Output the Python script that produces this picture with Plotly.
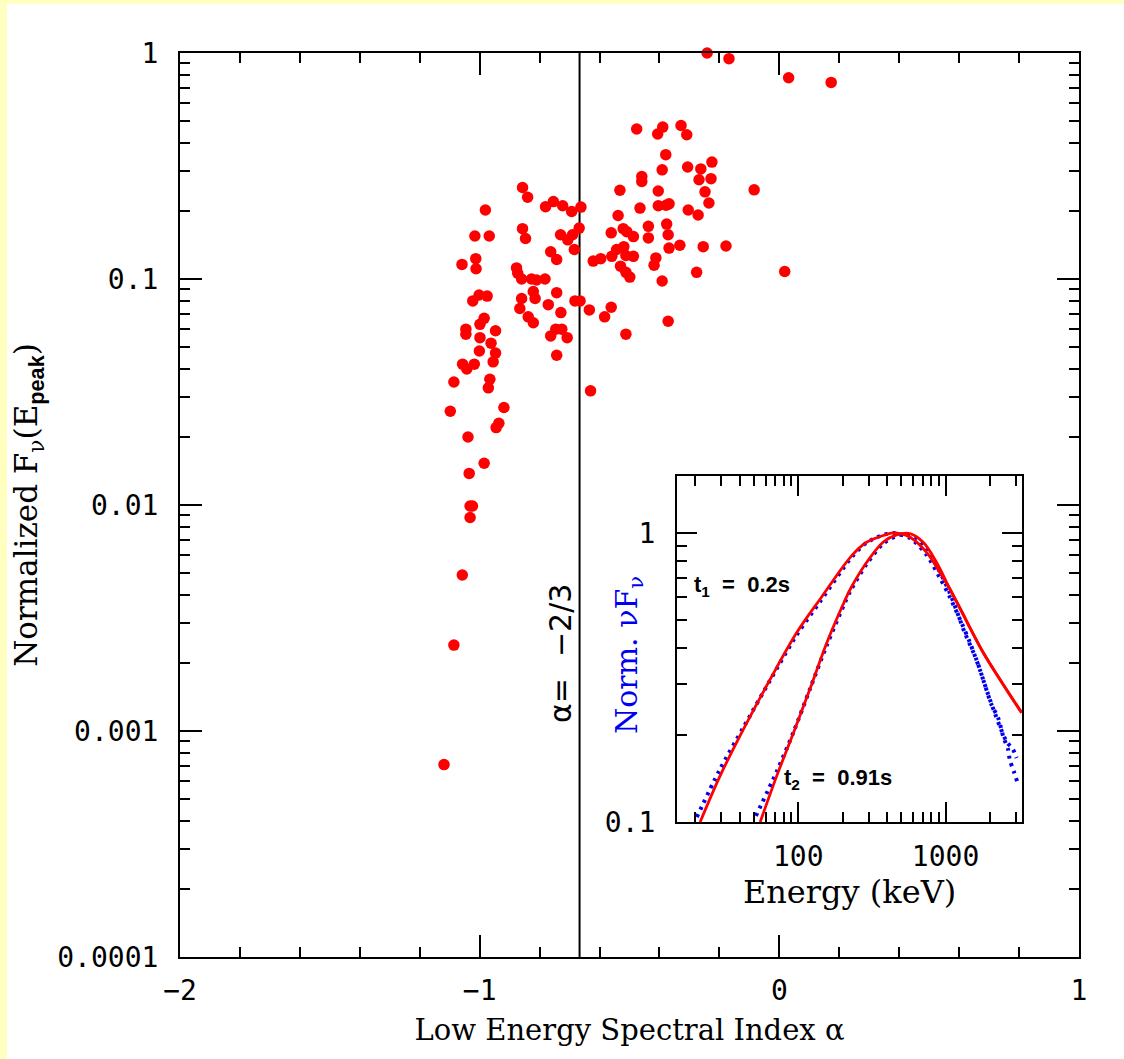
import plotly.graph_objects as go

# ---------------- main scatter data ----------------
alpha = [-0.241, -0.168, 0.031, 0.173, -0.476, -0.406, -0.389, -0.328, -0.309, -0.379,
         -0.391, -0.306, -0.262, -0.225, -0.268, -0.228, -0.459, -0.459, -0.532, -0.404,
         -0.248, -0.084, -0.857, -0.840, -0.981, -0.780, -0.754, -0.723, -0.693, -0.662,
         -0.465, -0.404, -0.378, -0.368, -0.304, -0.235, -0.271, -0.538, -1.016, -0.968,
         -0.857, -0.847, -0.730, -0.706, -0.690, -0.668, -0.561, -0.521, -0.509, -0.487,
         -0.437, -0.437, -0.376, -0.371, -0.368, -0.332, -0.254, -0.178, -0.684, -0.763,
         -0.743, -1.059, -1.013, -1.012, -0.621, -0.596, -0.559, -0.543, -0.519, -0.512,
         -0.487, -0.412, -0.418, -0.530, -0.512, -0.499, -0.391, -0.276, 0.018, -0.877,
         -0.873, -0.860, -0.827, -0.810, -0.782, -0.821, -0.815, -0.743, -0.860, -0.866,
         -0.771, -0.729, -0.838, -0.821, -0.682, -0.665, -0.634, -0.561, -0.583, -0.371,
         -0.512, -1.023, -1.002, -0.975, -0.985, -0.999, -1.046, -1.046, -0.999, -0.947,
         -0.962, -1.001, -0.947, -0.955, -1.057, -1.043, -1.018, -1.086, -0.966, -0.971,
         -0.763, -0.746, -0.726, -0.708, -0.743, -0.919, -1.098, -0.936, -0.945, -1.039,
         -0.630, -0.985, -1.035, -1.032, -1.024, -1.032, -1.058, -1.086, -1.119]

fnu_peak = [1.0, 0.944, 0.777, 0.741, 0.461, 0.438, 0.470, 0.478, 0.435, 0.355,
            0.304, 0.313, 0.307, 0.329, 0.275, 0.278, 0.284, 0.270, 0.247, 0.245,
            0.243, 0.248, 0.254, 0.230, 0.202, 0.209, 0.220, 0.211, 0.199, 0.208,
            0.206, 0.211, 0.212, 0.215, 0.202, 0.217, 0.192, 0.191, 0.155, 0.155,
            0.167, 0.151, 0.157, 0.149, 0.157, 0.168, 0.160, 0.167, 0.162, 0.154,
            0.171, 0.152, 0.175, 0.157, 0.137, 0.141, 0.139, 0.140, 0.135, 0.132,
            0.122, 0.116, 0.123, 0.111, 0.120, 0.123, 0.126, 0.135, 0.139, 0.127,
            0.126, 0.124, 0.115, 0.114, 0.107, 0.102, 0.098, 0.107, 0.108, 0.112,
            0.106, 0.100, 0.100, 0.099, 0.100, 0.088, 0.082, 0.087, 0.082, 0.074,
            0.077, 0.071, 0.068, 0.064, 0.080, 0.080, 0.073, 0.075, 0.068, 0.065,
            0.057, 0.080, 0.085, 0.084, 0.067, 0.063, 0.060, 0.057, 0.055, 0.059,
            0.052, 0.048, 0.047, 0.043, 0.042, 0.040, 0.042, 0.035, 0.036, 0.033,
            0.056, 0.060, 0.060, 0.055, 0.046, 0.027, 0.026, 0.023, 0.022, 0.020,
            0.032, 0.0153, 0.0138, 0.0099, 0.0099, 0.0088, 0.0049, 0.0024, 0.00071]

alpha_line = -2.0 / 3.0
main_yrange = [1e-4, 1.0]

x_tickvals = [-2, -1, 0, 1]
x_ticktext = ["\u22122", "\u22121", "0", "1"]
y_tickvals = [1e-4, 1e-3, 1e-2, 1e-1, 1]
y_ticktext = ["0.0001", "0.001", "0.01", "0.1", "1"]

# ---------------- inset data (normalised nuFnu spectra) ----------------
e_red_t1 = [21.6, 29.6, 42.6, 64.6, 98, 141, 231, 291, 378, 441, 573, 743, 914, 1069, 1250, 1800, 2335, 3280]
v_red_t1 = [0.1, 0.145, 0.21, 0.312, 0.453, 0.591, 0.835, 0.928, 0.98, 1.0, 0.966, 0.857, 0.731, 0.64, 0.55, 0.386, 0.312, 0.239]

e_red_t2 = [55.2, 71.7, 93, 120.6, 156.6, 203, 226, 291, 378, 465, 573, 705, 869, 1069, 1250, 1800, 2335, 3280]
v_red_t2 = [0.1, 0.145, 0.204, 0.29, 0.418, 0.57, 0.64, 0.79, 0.93, 0.985, 0.995, 0.928, 0.791, 0.64, 0.55, 0.386, 0.312, 0.239]

e_blue_t1 = [20.5, 29, 42.6, 64.6, 98, 141, 231, 291, 378, 441, 573, 743, 914, 1069,
             1284, 1462, 1709, 1945, 2160, 2336, 2594, 2874, 3031]
v_blue_t1 = [0.104, 0.15, 0.213, 0.31, 0.445, 0.58, 0.825, 0.925, 0.985, 1.0, 0.96, 0.84, 0.70, 0.60,
             0.488, 0.418, 0.3365, 0.276, 0.238, 0.214, 0.190, 0.178, 0.1665]

e_blue_t2 = [51.6, 71.7, 93, 120.6, 156.6, 203, 226, 291, 378, 465, 520, 573, 705, 869, 1069,
             1352, 1622, 1799, 2051, 2275, 2460, 2660, 2730, 2905, 3077]
v_blue_t2 = [0.105, 0.15, 0.205, 0.29, 0.41, 0.56, 0.63, 0.78, 0.92, 0.975, 0.99, 0.98, 0.91, 0.77, 0.62,
             0.451, 0.364, 0.311, 0.2546, 0.229, 0.198, 0.178, 0.164, 0.1496, 0.137]

inset_x_tickvals = [100, 1000]
inset_x_ticktext = ["100", "1000"]
inset_y_tickvals = [0.1, 1]
inset_y_ticktext = ["0.1", "1"]

# ---------------- figure ----------------
RED = "#FF0000"
BLUE = "#0000EE"
TICKFONT = dict(family="DejaVu Sans Mono", size=28, color="black")
TITLEFONT = dict(family="DejaVu Serif", size=29, color="black")

fig = go.Figure()

fig.add_trace(go.Scatter(x=[alpha_line, alpha_line], y=main_yrange, mode="lines",
                         line=dict(color="black", width=2), xaxis="x", yaxis="y",
                         showlegend=False, hoverinfo="skip"))
fig.add_trace(go.Scatter(x=alpha, y=fnu_peak, mode="markers",
                         marker=dict(color=RED, size=11.5, line=dict(width=0)),
                         cliponaxis=False, xaxis="x", yaxis="y", showlegend=False))

for e, v in [(e_blue_t1, v_blue_t1), (e_blue_t2, v_blue_t2)]:
    fig.add_trace(go.Scatter(x=e, y=v, mode="lines", xaxis="x2", yaxis="y2",
                             line=dict(color=BLUE, width=4, dash="3px,5px", shape="spline", smoothing=0.8),
                             showlegend=False))
for e, v in [(e_red_t1, v_red_t1), (e_red_t2, v_red_t2)]:
    fig.add_trace(go.Scatter(x=e, y=v, mode="lines", xaxis="x2", yaxis="y2",
                             line=dict(color=RED, width=2.8, shape="spline", smoothing=1.0),
                             showlegend=False))

axis_common = dict(showline=True, linecolor="black", linewidth=2, mirror="ticks",
                   ticks="inside", tickcolor="black", tickwidth=2, showgrid=False,
                   zeroline=False, tickfont=TICKFONT)

fig.update_layout(
    width=1124, height=1059,
    margin=dict(l=180, r=45, t=53, b=102),
    paper_bgcolor="white", plot_bgcolor="white",
    xaxis=dict(axis_common, range=[-2, 1], tickmode="array", tickvals=x_tickvals,
               ticktext=x_ticktext, ticklen=22, ticklabelstandoff=7,
               minor=dict(ticks="inside", ticklen=10, dtick=0.2, tickcolor="black", tickwidth=2),
               title=dict(text="Low Energy Spectral Index \u03b1", font=TITLEFONT, standoff=14)),
    yaxis=dict(axis_common, type="log", range=[-4, 0], tickmode="array", tickvals=y_tickvals,
               ticktext=y_ticktext, ticklen=22, ticklabelstandoff=14,
               minor=dict(ticks="inside", ticklen=10, dtick="D1", tickcolor="black", tickwidth=2),
               title=dict(text="Normalized F<sub>\u03bd</sub>(E<sub><span style='font-family:Liberation Sans;font-weight:bold'>peak</span></sub>)",
                          font=dict(family="DejaVu Serif", size=31, color="black"), standoff=10)),
    xaxis2=dict(axis_common, type="log", domain=[0.5528, 0.9368], anchor="y2",
                range=[1.177, 3.52], tickmode="array", tickvals=inset_x_tickvals,
                ticktext=inset_x_ticktext, ticklen=20, ticklabelstandoff=8,
                minor=dict(ticks="inside", ticklen=10, dtick="D1", tickcolor="black", tickwidth=2),
                title=dict(text="Energy (keV)", font=dict(family="DejaVu Serif", size=32, color="black"),
                           standoff=8)),
    yaxis2=dict(axis_common, type="log", domain=[0.1493, 0.5321], anchor="x2",
                range=[-1, 0.197], tickmode="array", tickvals=inset_y_tickvals,
                ticktext=inset_y_ticktext, ticklen=20, ticklabelstandoff=14,
                minor=dict(ticks="inside", ticklen=10, dtick="D1", tickcolor="black", tickwidth=2)),
    shapes=[
        dict(type="rect", xref="paper", yref="paper", x0=-0.21, x1=-0.1924, y0=-0.12, y1=1.07,
             fillcolor="#FFFFC0", line=dict(width=0), layer="below"),
        dict(type="rect", xref="paper", yref="paper", x0=-0.21, x1=1.06, y0=1.0546, y1=1.07,
             fillcolor="#FFFFC0", line=dict(width=0), layer="below"),
    ],
    annotations=[
        dict(text="\u03b1=\u2002\u2009\u22122/3", xref="paper", yref="paper",
             x=(560 - 180) / 899, y=(957 - 654) / 904, textangle=-90, showarrow=False,
             font=dict(family="DejaVu Sans", size=30, color="black"),
             xanchor="center", yanchor="middle"),
        dict(text="Norm. \u03bdF<sub>\u03bd</sub>", xref="paper", yref="paper",
             x=(628 - 180) / 899, y=(957 - 655) / 904, textangle=-90, showarrow=False,
             font=dict(family="DejaVu Serif", size=30, color=BLUE),
             xanchor="center", yanchor="middle"),
        dict(text="t<sub>1</sub>\u00a0\u00a0=\u00a0\u00a00.2s", xref="paper", yref="paper",
             x=(692 - 180) / 899, y=(957 - 586) / 904, showarrow=False,
             font=dict(family="Liberation Sans", size=22, color="black", weight="bold"),
             xanchor="left", yanchor="middle"),
        dict(text="t<sub>2</sub>\u00a0\u00a0=\u00a0\u00a00.91s", xref="paper", yref="paper",
             x=(782 - 180) / 899, y=(957 - 779) / 904, showarrow=False,
             font=dict(family="Liberation Sans", size=22, color="black", weight="bold"),
             xanchor="left", yanchor="middle"),
    ],
)

fig.write_html("out.html")
